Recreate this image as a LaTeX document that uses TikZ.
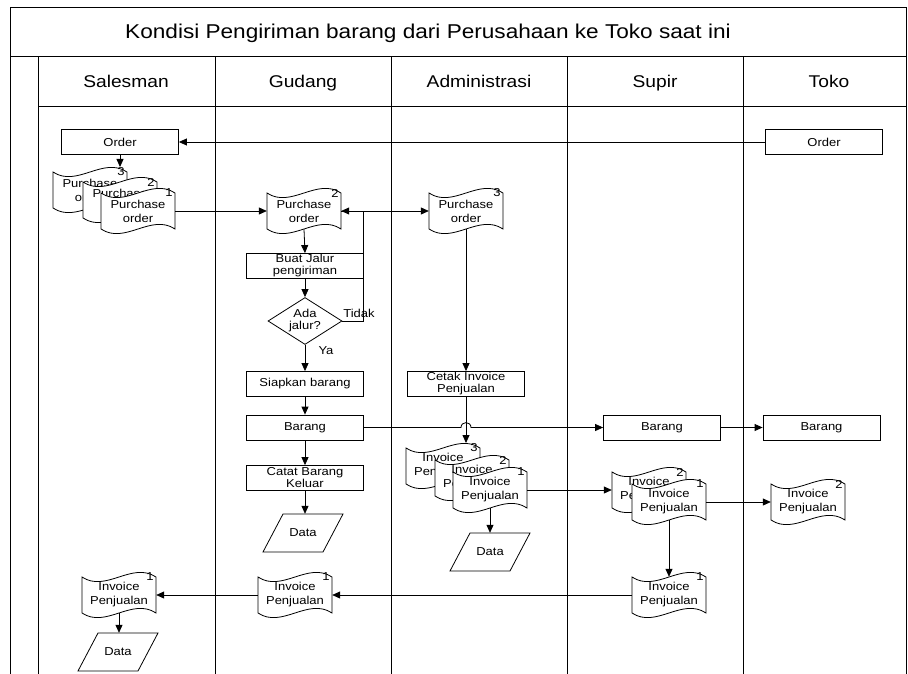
\documentclass[tikz,border=0pt]{standalone}
\usepackage{fontspec}
\setmainfont[FakeStretch=1.13]{Liberation Sans}
\usetikzlibrary{arrows.meta,shapes.geometric}
\newcommand{\boxfont}{\fontsize{11.5}{12}\selectfont}
\newcommand{\docfont}{\fontsize{11.5}{14}\selectfont}
% paper tape shaped document: name, x, y, text, number
\newcommand{\tapedoc}[5]{
    \draw[tapeline] (#2-37,#3-18) .. controls +(24,16) and +(-24,-16) .. (#2+37,#3-18)
        -- (#2+37,#3+18) .. controls +(-24,-16) and +(24,16) .. (#2-37,#3+18) -- cycle;
    \node[tapetext] (#1) at (#2,#3) {#4};
    \node[tapenum] (#1-n) at (#2+31,#3-18) {#5};
}
% data store (parallelogram): name, x, y
\newcommand{\datadoc}[3]{
    \draw[tapeline] (#2-20,#3-19) -- (#2+40,#3-19) -- (#2+20,#3+19) -- (#2-40,#3+19) -- cycle;
    \node[datatext] (#1) at (#2,#3) {Data};
}
\tikzset{
    frame/.style={line width=1pt},
    conn/.style={line width=0.8pt},
    arr/.style={conn,-{Triangle[length=8pt,width=7pt]}},
    box/.style={draw,line width=0.8pt,fill=white,minimum width=117pt,minimum height=25pt,
        inner sep=0pt,align=center,font=\boxfont},
    tapeline/.style={draw,line width=0.8pt,fill=white},
    tapetext/.style={minimum width=74pt,minimum height=36pt,inner sep=0pt,align=center,font=\docfont},
    tapenum/.style={inner sep=0pt,font=\docfont},
    datatext/.style={minimum width=60pt,minimum height=38pt,inner sep=0pt,font=\boxfont},
    decision/.style={draw,line width=0.8pt,fill=white,diamond,aspect=1.57,inner sep=0pt,
        minimum width=74pt,minimum height=47pt,align=center,font=\boxfont},
    lanehead/.style={anchor=base,font=\fontsize{17}{20}\selectfont},
    smalllabel/.style={inner sep=0pt,font=\boxfont}
}
\begin{document}
\begin{tikzpicture}[x=1pt,y=-1pt]
\useasboundingbox (0,0) rectangle (908,674);
% swimlanes
\draw[frame] (10,674) -- (10,8) -- (906,8) -- (906,674);
\draw[frame] (10,57) -- (906,57);
\draw[frame] (38,107) -- (906,107);
\foreach \x in {38,215,391,567,743}{
    \draw[frame] (\x,57) -- (\x,674);
}
\node[anchor=base,font=\fontsize{20}{24}\selectfont] (title) at (428,39) {Kondisi Pengiriman barang dari Perusahaan ke Toko saat ini};
\node[lanehead] (hSales) at (126,88) {Salesman};
\node[lanehead] (hGudang) at (303,88) {Gudang};
\node[lanehead] (hAdmin) at (479,88) {Administrasi};
\node[lanehead] (hSupir) at (655,88) {Supir};
\node[lanehead] (hToko) at (829,88) {Toko};

% Salesman
\node[box] (orderS) at (120,142) {Order};
\node[box] (orderT) at (824,142) {Order};
\tapedoc{poS3}{90}{190}{Purchase\\order}{3}
\tapedoc{poS2}{120}{200}{Purchase\\order}{2}
\tapedoc{poS1}{138}{211}{Purchase\\order}{1}
\coordinate (poS-top) at (120,167);

% Gudang
\tapedoc{poG}{304}{211}{Purchase\\order}{2}
\node[box] (jalur) at (305,266) {Buat Jalur\\pengiriman};
\node[decision] (ada) at (305,321) {Ada\\jalur?};
\coordinate (loop) at (363,321);
\node[smalllabel] (tidak) at (359,313) {Tidak};
\node[smalllabel] (ya) at (326,351) {Ya};
\node[box] (siapkan) at (305,384) {Siapkan barang};
\node[box] (barangG) at (305,427.5) {Barang};
\node[box] (catat) at (305,478) {Catat Barang\\Keluar};
\datadoc{dataG}{303}{533}

% Administrasi
\tapedoc{poA}{466}{211}{Purchase\\order}{3}
\node[box] (cetak) at (466,384) {Cetak Invoice\\Penjualan};
\tapedoc{invA3}{443}{466}{Invoice\\Penjualan}{3}
\tapedoc{invA2}{472}{478}{Invoice\\Penjualan}{2}
\tapedoc{invA1}{490}{490}{Invoice\\Penjualan}{1}
\coordinate (invA-top) at (466,443);
\datadoc{dataA}{490}{552}
\coordinate (hopL) at (461,427.5);
\coordinate (hopR) at (471,427.5);

% Supir
\node[box] (barangS) at (662,427.5) {Barang};
\tapedoc{invS2}{649}{490}{Invoice\\Penjualan}{2}
\tapedoc{invS1}{669}{502}{Invoice\\Penjualan}{1}
\tapedoc{invS}{669}{595}{Invoice\\Penjualan}{1}

% Toko
\node[box] (barangT) at (821.5,427.5) {Barang};
\tapedoc{invT}{808}{502}{Invoice\\Penjualan}{2}

% kembali ke Gudang dan Salesman
\tapedoc{invG}{295}{595}{Invoice\\Penjualan}{1}
\tapedoc{invSal}{119}{595}{Invoice\\Penjualan}{1}
\datadoc{dataS}{118}{652}

% connectors
\draw[arr] (orderT) -- (orderS);
\draw[arr] (orderS.south) -- (poS-top);
\draw[arr] (poS1.east) -- (poG.west);
\draw[arr] (poG.east) -- (poA.west);
\draw[arr] (poG.south) -- (jalur.north);
\draw[arr] (jalur.south) -- (ada.north);
\draw[arr] (ada.east) -- (loop) |- (poG.east);
\draw[arr] (ada.south) -- (siapkan.north);
\draw[arr] (siapkan.south) -- (barangG.north);
\draw[arr] (barangG.south) -- (catat.north);
\draw[arr] (catat.south) -- (catat.south |- dataG.north);
\draw[arr] (poA.south) -- (cetak.north);
\draw[arr] (cetak.south) -- (invA-top);
\draw[arr] (invA1.south) -- (dataA.north);
\draw[arr] (barangG.east) -- (hopL) .. controls (461,421) and (471,421) .. (hopR) -- (barangS.west);
\draw[arr] (barangS.east) -- (barangT.west);
\draw[arr] (invA1.east) -- (invS2.west);
\draw[arr] (invS1.east) -- (invT.west);
\draw[arr] (invS1.south) -- (invS.north);
\draw[arr] (invS.west) -- (invG.east);
\draw[arr] (invG.west) -- (invSal.east);
\draw[arr] (invSal.south) -- (invSal.south |- dataS.north);
\end{tikzpicture}
\end{document}
